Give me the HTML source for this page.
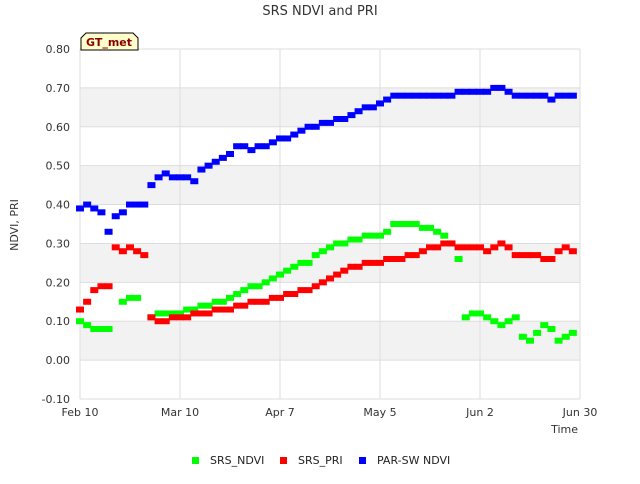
<!DOCTYPE html>
<html><head><meta charset="utf-8"><style>
body{margin:0;background:#fff;font-family:"DejaVu Sans","Liberation Sans",sans-serif}
svg text{font-family:"DejaVu Sans","Liberation Sans",sans-serif}
</style></head><body>
<svg id="c" width="640" height="480" xmlns="http://www.w3.org/2000/svg">
<text x="320" y="15" text-anchor="middle" font-size="13" fill="#333">SRS NDVI and PRI</text>
<g id="grid"></g>
<g id="axes"></g>
<g id="marks"></g>
<g>
<path d="M81,50 L81,38 L86,33 L133,33 L138,38 L138,50 Z" fill="#ffffcc" stroke="#000"/>
<text x="109" y="46" text-anchor="middle" font-size="11" font-weight="bold" fill="#8b0000">GT_met</text>
</g>
<text x="18" y="225" text-anchor="middle" font-size="11" fill="#333" transform="rotate(-90 18 225)">NDVI, PRI</text>
<text x="578" y="433" text-anchor="end" font-size="11" fill="#333">Time</text>
<g>
<g><rect x="192" y="457" width="7" height="7" fill="#00ff00"/><text x="210" y="464" font-size="11" fill="#222">SRS_NDVI</text></g>
<g><rect x="280" y="457" width="7" height="7" fill="#ff0000"/><text x="298" y="464" font-size="11" fill="#222">SRS_PRI</text></g>
<g><rect x="359" y="457" width="7" height="7" fill="#0000ff"/><text x="377" y="464" font-size="11" fill="#222">PAR-SW NDVI</text></g>
</g>
</svg>
<script>
const days=[];for(let d=0;d<140;d+=2)days.push(d);
const yTicks=[-0.1,0,0.1,0.2,0.3,0.4,0.5,0.6,0.7,0.8];
const xTickLabels=["Feb 10","Mar 10","Apr 7","May 5","Jun 2","Jun 30"];
const xTickDays=[0,28,56,84,112,140];
const parsw=[.39,.40,.39,.38,.33,.37,.38,.40,.40,.40,.45,.47,.48,.47,.47,.47,.46,.49,.50,.51,.52,.53,.55,.55,.54,.55,.55,.56,.57,.57,.58,.59,.60,.60,.61,.61,.62,.62,.63,.64,.65,.65,.66,.67,.68,.68,.68,.68,.68,.68,.68,.68,.68,.69,.69,.69,.69,.69,.70,.70,.69,.68,.68,.68,.68,.68,.67,.68,.68,.68];
const ndvi=[.10,.09,.08,.08,.08,null,.15,.16,.16,null,.11,.12,.12,.12,.12,.13,.13,.14,.14,.15,.15,.16,.17,.18,.19,.19,.20,.21,.22,.23,.24,.25,.25,.27,.28,.29,.30,.30,.31,.31,.32,.32,.32,.33,.35,.35,.35,.35,.34,.34,.33,.32,.30,.26,.11,.12,.12,.11,.10,.09,.10,.11,.06,.05,.07,.09,.08,.05,.06,.07];
const pri=[.13,.15,.18,.19,.19,.29,.28,.29,.28,.27,.11,.10,.10,.11,.11,.11,.12,.12,.12,.13,.13,.13,.14,.14,.15,.15,.15,.16,.16,.17,.17,.18,.18,.19,.20,.21,.22,.23,.24,.24,.25,.25,.25,.26,.26,.26,.27,.27,.28,.29,.29,.30,.30,.29,.29,.29,.29,.28,.29,.30,.29,.27,.27,.27,.27,.26,.26,.28,.29,.28];
const NS="http://www.w3.org/2000/svg";
const X0=80,X1=580,Y0=399,Y1=49;
function sx(d){return X0+d*(X1-X0)/140;}
function sy(v){return Y0-(v+0.1)*(Y0-Y1)/0.9;}
function mk(t,a,p){const e=document.createElementNS(NS,t);for(const k in a)e.setAttribute(k,a[k]);p.appendChild(e);return e;}
const grid=document.getElementById('grid'),axes=document.getElementById('axes'),marks=document.getElementById('marks');
for(let i=0;i<yTicks.length-1;i++){
 if(i%2===1){const b=mk('rect',{x:X0,y:sy(yTicks[i+1]),width:X1-X0,height:sy(yTicks[i])-sy(yTicks[i+1]),fill:'#f2f2f2'},grid);
 
 }
}
yTicks.forEach(v=>{
 const l=mk('line',{x1:X0,x2:X1,y1:sy(v),y2:sy(v),stroke:'#ddd'},grid);
 
 
 const t=mk('text',{x:X0-10,y:sy(v)+4,'text-anchor':'end','font-size':'11',fill:'#333'},axes);
 t.textContent=v.toFixed(2);
 
 
});
xTickDays.forEach((d,i)=>{
 const l=mk('line',{x1:sx(d),x2:sx(d),y1:Y1,y2:Y0,stroke:'#ddd'},grid);
 
 
 const t=mk('text',{x:sx(d),y:Y0+17,'text-anchor':'middle','font-size':'11',fill:'#333'},axes);
 t.textContent=xTickLabels[i];
 
 
});
function series(arr,color,name){
 const g=mk('g',{},marks);
 
 
 arr.forEach((v,i)=>{if(v===null)return;
  const r=mk('rect',{x:sx(days[i])-4,y:sy(v)-3,width:8,height:6,fill:color},g);
  
  
 });
}
series(ndvi,'#00ff00','srs-ndvi');
series(pri,'#ff0000','srs-pri');
series(parsw,'#0000ff','par-sw-ndvi');
</script>
</body></html>
